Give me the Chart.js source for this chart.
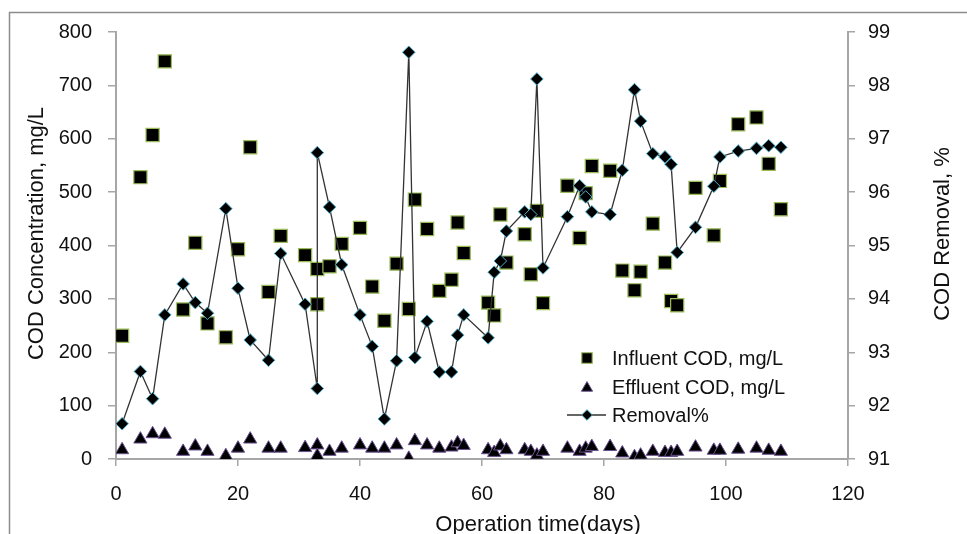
<!DOCTYPE html>
<html>
<head>
<meta charset="utf-8">
<script src="https://cdn.jsdelivr.net/npm/chart.js@4.4.0/dist/chart.umd.min.js"></script>
<style>
  html, body { margin: 0; padding: 0; background: #fff; }
  #wrap { width: 967px; height: 534px; }
</style>
</head>
<body>
<div id="wrap"><canvas id="codChart" width="967" height="534"></canvas></div>
<script>
// === Data ===
const days = [1, 4, 6, 8, 11, 13, 15, 18, 20, 22, 25, 27, 31, 33, 33, 35, 37, 40, 42, 44,
  46, 48, 49, 51, 53, 55, 56, 57, 61, 62, 63, 64, 67, 68, 69, 70, 74, 76, 77, 78,
  81, 83, 85, 86, 88, 90, 91, 92, 95, 98, 99, 102, 105, 107, 109];
const influentCOD = [231, 528, 607, 745, 280, 405, 254, 228, 393, 584, 313, 418, 382, 356, 290, 361, 403, 433, 323, 259,
  366, 281, 486, 431, 315, 336, 443, 386, 293, 269, 458, 368, 421, 346, 465, 292, 512, 414, 498, 549,
  540, 353, 316, 351, 441, 368, 296, 288, 508, 419, 521, 627, 640, 553, 468];
const effluentCOD = [17, 37, 47, 46, 14, 24, 14, 6, 20, 37, 20, 20, 21, 26, 6, 14, 20, 26, 20, 20,
  26, 1, 34, 26, 20, 22, 30, 25, 17, 12, 24, 17, 17, 14, 7, 14, 20, 14, 20, 23,
  23, 11, 4, 7, 14, 12, 12, 14, 22, 16, 16, 18, 20, 16, 14];
const removalPct = [91.66, 92.64, 92.13, 93.70, 94.28, 93.93, 93.73, 95.69, 94.20, 93.23, 92.85, 94.85, 93.90, 92.32, 96.74, 95.72, 94.64, 93.70, 93.11, 91.75,
  92.84, 98.62, 92.90, 93.58, 92.63, 92.63, 93.32, 93.70, 93.27, 94.50, 94.71, 95.27, 95.63, 95.58, 98.12, 94.58, 95.54, 96.12, 95.91, 95.63,
  95.58, 96.41, 97.92, 97.33, 96.72, 96.66, 96.52, 94.87, 95.34, 96.11, 96.66, 96.77, 96.82, 96.87, 96.84];

const xTicks = [0, 20, 40, 60, 80, 100, 120];
const codTicks = [0, 100, 200, 300, 400, 500, 600, 700, 800];
const removalTicks = [91, 92, 93, 94, 95, 96, 97, 98, 99];

const seriesNames = ['Influent COD, mg/L', 'Effluent COD, mg/L', 'Removal%'];

// === Helpers ===
const pairs = (xs, ys) => xs.map((x, i) => ({ x: x, y: ys[i] }));
const FONT = 'Liberation Sans, Arial, sans-serif';
const AXIS_GREY = '#a6a6a6';

function markerPath(ctx, kind, x, y, r) {
  ctx.beginPath();
  if (kind === 'rect') {
    const s = r * Math.SQRT1_2;
    ctx.rect(x - s, y - s, 2 * s, 2 * s);
  } else if (kind === 'triangle') {
    ctx.moveTo(x, y - r);
    ctx.lineTo(x + r * 0.866, y + r * 0.5);
    ctx.lineTo(x - r * 0.866, y + r * 0.5);
    ctx.closePath();
  } else {
    ctx.moveTo(x, y - r);
    ctx.lineTo(x + r, y);
    ctx.lineTo(x, y + r);
    ctx.lineTo(x - r, y);
    ctx.closePath();
  }
}

// frame, axis titles and the in-plot legend
const extras = {
  id: 'extras',
  beforeDraw(chart) {
    const ctx = chart.ctx;
    ctx.save();
    ctx.fillStyle = '#fff';
    ctx.fillRect(0, 0, chart.width, chart.height);
    ctx.strokeStyle = '#8c8c8c';
    ctx.lineWidth = 1.5;
    ctx.beginPath();
    ctx.moveTo(9.5, chart.height);
    ctx.lineTo(9.5, 12.5);
    ctx.lineTo(chart.width, 12.5);
    ctx.stroke();
    ctx.restore();
  },
  afterDraw(chart) {
    const ctx = chart.ctx;
    const area = chart.chartArea;
    ctx.save();
    ctx.fillStyle = '#111';
    ctx.textAlign = 'center';
    ctx.textBaseline = 'middle';
    ctx.font = '22px ' + FONT;

    ctx.save();
    ctx.translate(37, (area.top + area.bottom) / 2 - 12);
    ctx.rotate(-Math.PI / 2);
    ctx.fillText('COD Concentration, mg/L', 0, 0);
    ctx.restore();

    ctx.save();
    ctx.translate(943, 234);
    ctx.rotate(-Math.PI / 2);
    ctx.fillText('COD Removal, %', 0, 0);
    ctx.restore();

    ctx.textBaseline = 'alphabetic';
    ctx.fillText('Operation time(days)', 538, 531);

    // legend
    const ds = chart.data.datasets;
    const rows = [358, 387, 415];
    const mx = 587;
    ctx.font = '20px ' + FONT;
    ctx.textAlign = 'left';
    ctx.textBaseline = 'middle';
    rows.forEach((ry, i) => {
      const d = ds[i];
      if (d.showLine) {
        ctx.strokeStyle = d.borderColor;
        ctx.lineWidth = d.borderWidth;
        ctx.beginPath();
        ctx.moveTo(567, ry);
        ctx.lineTo(606, ry);
        ctx.stroke();
      }
      const scale = i === 0 ? 0.8 : (i === 1 ? 0.85 : 0.85);
      markerPath(ctx, d.pointStyle, mx, ry + (i === 1 ? 1 : 0), d.pointRadius * scale);
      ctx.fillStyle = d.pointBackgroundColor;
      ctx.fill();
      ctx.strokeStyle = d.pointBorderColor;
      ctx.lineWidth = d.pointBorderWidth;
      ctx.stroke();
      ctx.fillStyle = '#111';
      ctx.fillText(seriesNames[i], 612, ry + 1);
    });
    ctx.restore();
  }
};

const tickFont = { family: FONT, size: 20 };

new Chart(document.getElementById('codChart'), {
  type: 'scatter',
  data: {
    datasets: [
      {
        label: seriesNames[0],
        data: pairs(days, influentCOD),
        yAxisID: 'y',
        pointStyle: 'rect',
        pointRadius: 9.3,
        pointBackgroundColor: '#000',
        pointBorderColor: '#9bbb59',
        pointBorderWidth: 1.2,
        showLine: false,
        order: 2
      },
      {
        label: seriesNames[1],
        data: pairs(days, effluentCOD),
        yAxisID: 'y',
        pointStyle: 'triangle',
        pointRadius: 7.6,
        pointBackgroundColor: '#000',
        pointBorderColor: '#6a5190',
        pointBorderWidth: 1,
        showLine: false,
        order: 3
      },
      {
        label: seriesNames[2],
        data: pairs(days, removalPct),
        yAxisID: 'y1',
        pointStyle: 'rectRot',
        pointRadius: 6.3,
        pointBackgroundColor: '#000',
        pointBorderColor: '#4bacc6',
        pointBorderWidth: 1,
        showLine: true,
        borderColor: '#333',
        borderWidth: 1.3,
        tension: 0,
        order: 1
      }
    ]
  },
  options: {
    responsive: false,
    animation: false,
    devicePixelRatio: 1,
    layout: { padding: { top: 32, left: 0, right: 0, bottom: 0 } },
    plugins: {
      legend: { display: false },
      tooltip: { enabled: false }
    },
    scales: {
      x: {
        type: 'linear',
        min: xTicks[0],
        max: xTicks[xTicks.length - 1],
        afterFit: s => { s.height = 75; },
        afterBuildTicks: s => { s.ticks = xTicks.map(v => ({ value: v })); },
        ticks: { font: tickFont, color: '#111', padding: 16, maxRotation: 0 },
        grid: { drawOnChartArea: false, drawTicks: true, tickLength: 7, color: AXIS_GREY, lineWidth: 1.5 },
        border: { color: AXIS_GREY, width: 2 }
      },
      y: {
        position: 'left',
        min: codTicks[0],
        max: codTicks[codTicks.length - 1],
        afterFit: s => { s.width = 116; },
        afterBuildTicks: s => { s.ticks = codTicks.map(v => ({ value: v })); },
        ticks: { font: tickFont, color: '#111', padding: 16 },
        grid: { drawOnChartArea: false, drawTicks: true, tickLength: 8, color: AXIS_GREY, lineWidth: 1.5 },
        border: { color: AXIS_GREY, width: 2 }
      },
      y1: {
        position: 'right',
        min: removalTicks[0],
        max: removalTicks[removalTicks.length - 1],
        afterFit: s => { s.width = 119; },
        afterBuildTicks: s => { s.ticks = removalTicks.map(v => ({ value: v })); },
        ticks: { font: tickFont, color: '#111', padding: 13 },
        grid: { drawOnChartArea: false, drawTicks: true, tickLength: 7, color: AXIS_GREY, lineWidth: 1.5 },
        border: { color: AXIS_GREY, width: 2 }
      }
    }
  },
  plugins: [extras]
});
</script>
</body>
</html>
